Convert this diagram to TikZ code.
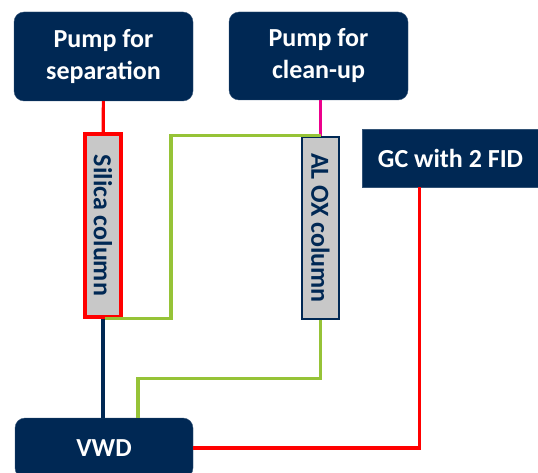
\documentclass[tikz,border=0pt]{standalone}
\usepackage{fontspec}
\setmainfont{Carlito}
\usepackage{tikz}
\usetikzlibrary{positioning, calc}

\definecolor{navy}{RGB}{0,40,84}
\definecolor{colgray}{RGB}{200,200,200}
\definecolor{olive}{RGB}{150,195,55}

\begin{document}
\begin{tikzpicture}[x=1pt, y=-1pt,
    unit/.style={draw=navy!80!white, fill=navy, text=white, font=\bfseries\fontsize{26}{32}\selectfont, align=center, inner sep=0pt, rounded corners=10pt},
    column/.style={fill=colgray, line width=2.4pt, inner sep=0pt, minimum width=36pt, minimum height=183pt},
    coltext/.style={text=navy, font=\bfseries\fontsize{26}{28}\selectfont, rotate=-90},
    pipe/.style={line width=3.2pt}]
    \useasboundingbox (0,0) rectangle (538,473);

    \node[unit, minimum width=179pt, minimum height=89pt] (pump1) at (103.5, 56.5) {Pump for\\separation};
    \node[unit, minimum width=179pt, minimum height=88pt] (pump2) at (318.5, 56) {Pump for\\clean-up};
    \node[unit, rounded corners=0pt, minimum width=177pt, minimum height=58pt] (gc) at (450.5, 158) {GC with 2 FID};
    \node[unit, minimum width=178pt, minimum height=60pt] (vwd) at (104, 448) {VWD};

    \node[column, draw=red, line width=3.2pt] (silica) at (103, 225.5) {};
    \node[coltext] at (silica) {Silica column};
    \node[column, draw=navy, minimum width=37pt, minimum height=182pt] (alox) at (320.5, 228) {};
    \node[coltext] at (alox) {AL OX column};

    \draw[pipe, red] (pump1) -- (silica);
    \draw[pipe, magenta] (alox.north |- pump2.south) -- (alox.north);
    \draw[pipe, olive] ([xshift=2pt]silica.south) -- ++(66,0) |- (alox.north);
    \draw[pipe, olive] (alox.south) -- ++(0,58) -| ([xshift=34pt]vwd.north);
    \draw[pipe, navy] (silica.south) -- (silica.south |- vwd.north);
    \draw[pipe, red] (vwd.east) -| ([xshift=-31pt]gc.south);
\end{tikzpicture}
\end{document}
